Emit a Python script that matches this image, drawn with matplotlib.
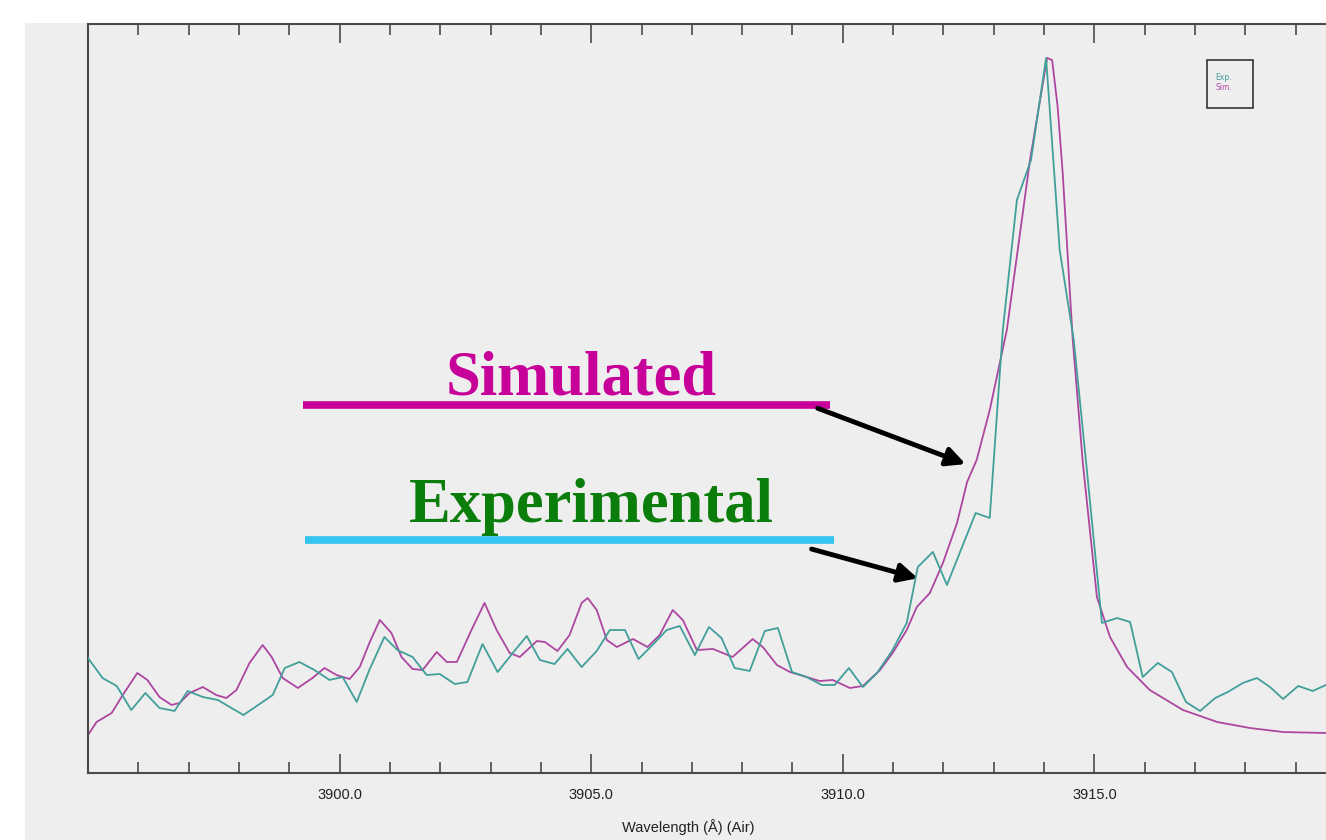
import matplotlib
matplotlib.use('Agg')
import matplotlib.pyplot as plt
from matplotlib.patches import Rectangle
from matplotlib.ticker import FixedLocator, FormatStrFormatter

# experimental spectrum (teal)
exp_wl  = [3895.00, 3895.29, 3895.57, 3895.86, 3896.14, 3896.42, 3896.72, 3896.98, 3897.28, 3897.58,
           3897.85, 3898.09, 3898.41, 3898.67, 3898.91, 3899.20, 3899.50, 3899.80, 3900.06, 3900.34,
           3900.60, 3900.89, 3901.15, 3901.45, 3901.73, 3901.99, 3902.29, 3902.54, 3902.84, 3903.14,
           3903.44, 3903.72, 3903.98, 3904.27, 3904.53, 3904.81, 3905.11, 3905.37, 3905.67, 3905.94,
           3906.22, 3906.50, 3906.76, 3907.06, 3907.34, 3907.59, 3907.85, 3908.15, 3908.45, 3908.71,
           3908.99, 3909.28, 3909.58, 3909.84, 3910.12, 3910.40, 3910.68, 3910.99, 3911.27, 3911.49,
           3911.79, 3912.07, 3912.37, 3912.64, 3912.92, 3913.18, 3913.46, 3913.74, 3914.04, 3914.31,
           3914.59, 3914.87, 3915.15, 3915.45, 3915.71, 3915.96, 3916.26, 3916.54, 3916.82, 3917.10,
           3917.40, 3917.65, 3917.95, 3918.23, 3918.49, 3918.75, 3919.05, 3919.34, 3919.60, 3919.88]
exp_int = [15.35, 12.68, 11.62, 8.41, 10.68, 8.68, 8.28, 10.95, 10.15, 9.75,
           8.68, 7.74, 9.21, 10.41, 14.02, 14.82, 13.75, 12.42, 12.82, 9.48,
           13.89, 18.16, 16.42, 15.49, 13.08, 13.22, 11.88, 12.15, 17.22, 13.48,
           16.02, 18.29, 15.09, 14.55, 16.56, 14.15, 16.29, 19.09, 19.09, 15.22,
           17.09, 19.09, 19.63, 15.75, 19.49, 18.02, 14.02, 13.62, 18.96, 19.36,
           13.48, 12.82, 11.75, 11.75, 14.02, 11.48, 13.35, 16.42, 20.03, 27.50,
           29.51, 25.10, 30.17, 34.71, 34.05, 59.15, 76.50, 81.84, 95.46, 69.83,
           57.81, 39.12, 20.03, 20.69, 20.16, 12.82, 14.69, 13.48, 9.48, 8.28,
           10.01, 10.81, 12.02, 12.68, 11.48, 9.88, 11.62, 10.95, 11.75, 12.02]

# simulated spectrum (magenta)
sim_wl  = [3895.00, 3895.17, 3895.47, 3895.69, 3895.98, 3896.18, 3896.42, 3896.66, 3896.82, 3897.02,
           3897.28, 3897.55, 3897.75, 3897.95, 3898.21, 3898.47, 3898.65, 3898.87, 3899.17, 3899.46,
           3899.70, 3899.94, 3900.20, 3900.40, 3900.60, 3900.80, 3901.03, 3901.23, 3901.45, 3901.65,
           3901.93, 3902.13, 3902.33, 3902.62, 3902.88, 3903.12, 3903.38, 3903.58, 3903.92, 3904.08,
           3904.33, 3904.57, 3904.81, 3904.93, 3905.11, 3905.31, 3905.51, 3905.83, 3906.12, 3906.36,
           3906.62, 3906.82, 3907.10, 3907.42, 3907.81, 3908.21, 3908.41, 3908.69, 3908.95, 3909.28,
           3909.54, 3909.80, 3910.14, 3910.40, 3910.74, 3910.99, 3911.27, 3911.47, 3911.73, 3911.99,
           3912.27, 3912.47, 3912.66, 3912.92, 3913.12, 3913.26, 3913.72, 3914.06, 3914.16, 3914.27,
           3914.37, 3914.57, 3914.77, 3915.05, 3915.31, 3915.65, 3916.10, 3916.76, 3917.44, 3918.09,
           3918.75, 3919.60, 3920.00]
sim_int = [5.07, 6.81, 8.01, 10.41, 13.35, 12.42, 10.15, 9.08, 9.35, 10.68,
           11.48, 10.41, 10.01, 11.08, 14.69, 17.09, 15.49, 12.68, 11.35, 12.68,
           14.02, 13.08, 12.55, 14.15, 17.49, 20.43, 18.69, 15.49, 13.89, 13.75,
           16.15, 14.82, 14.82, 19.09, 22.70, 19.09, 16.02, 15.49, 17.62, 17.49,
           16.29, 18.42, 22.70, 23.36, 21.76, 17.76, 16.82, 17.89, 16.82, 18.42,
           21.76, 20.43, 16.42, 16.56, 15.49, 17.89, 16.82, 14.42, 13.48, 12.82,
           12.28, 12.42, 11.35, 11.62, 13.75, 16.02, 19.09, 22.16, 24.03, 28.04,
           33.38, 38.85, 41.79, 48.46, 54.74, 59.15, 81.84, 95.46, 95.19, 88.92,
           80.11, 57.81, 41.39, 23.50, 18.16, 14.15, 11.08, 8.41, 6.81, 6.01,
           5.47, 5.34, 5.25]

major_ticks   = [3900, 3905, 3910, 3915]
minor_ticks   = [w for w in range(3896, 3920) if w % 5 != 0]
legend_labels = ['Exp.', 'Sim.']

teal    = '#419f99'
magenta = '#ad46a0'
bg      = '#eeeeee'
spine_c = '#4a4a4a'

W, H = 1326, 840
fig = plt.figure(figsize=(W / 100, H / 100), dpi=100)
fig.patch.set_facecolor('white')
fig.patches.append(Rectangle((25 / W, 0), 1, 1 - 23 / H, transform=fig.transFigure,
                             facecolor=bg, edgecolor='none', zorder=-10))

ax = fig.add_axes([88 / W, 67 / H, 1258 / W, 749 / H])
ax.set_facecolor(bg)

ax.plot(exp_wl, exp_int, color=teal, lw=1.3, zorder=3)
ax.plot(sim_wl, sim_int, color=magenta, lw=1.3, zorder=2)

ax.set_xlim(3895.0, 3920.0)
ax.set_ylim(0, 100)
ax.set_yticks([])

ax.xaxis.set_major_locator(FixedLocator(major_ticks))
ax.xaxis.set_minor_locator(FixedLocator(minor_ticks))
ax.xaxis.set_major_formatter(FormatStrFormatter('%.1f'))
ax.tick_params(axis='x', which='both', direction='in', top=True, bottom=True,
               color=spine_c, width=1.2, labelsize=10.5, labelcolor='#222222',
               pad=11)
ax.tick_params(axis='x', which='major', length=14)
ax.tick_params(axis='x', which='minor', length=8)
for lab in ax.get_xticklabels():
    lab.set_family('Liberation Sans')

for s in ax.spines.values():
    s.set_color(spine_c)
    s.set_linewidth(1.5)

ax.set_xlabel('Wavelength (Å) (Air)', fontsize=10.5, family='Liberation Sans', color='#222222')
ax.xaxis.set_label_coords(0.477, -0.061)

# small legend box at top right
ax.add_patch(Rectangle((0.8895, 0.8879), 0.0366, 0.0641, transform=ax.transAxes,
                       facecolor=bg, edgecolor='#333333', lw=1.2, zorder=5))
ax.text(0.8959, 0.929, legend_labels[0], transform=ax.transAxes, color=teal,
        fontsize=5.5, va='center', ha='left', zorder=6)
ax.text(0.8959, 0.9146, legend_labels[1], transform=ax.transAxes, color=magenta,
        fontsize=5.5, va='center', ha='left', zorder=6)

# big annotations
ax.text(3904.81, 50.5, 'Simulated', color='#c8009a', fontsize=45, fontweight='bold',
        family='Liberation Serif', ha='center', va='baseline', zorder=6)
ax.plot([3899.28, 3909.74], [49.1, 49.1], color='#c8009a', lw=5.5, solid_capstyle='butt', zorder=6)
ax.annotate('', xy=(3912.44, 41.25), xytext=(3909.50, 48.7),
            arrowprops=dict(arrowstyle='-|>', color='black', lw=3.5, mutation_scale=28,
                            shrinkA=0, shrinkB=0), zorder=7)

ax.text(3905.01, 33.5, 'Experimental', color='#0b7d0b', fontsize=45, fontweight='bold',
        family='Liberation Serif', ha='center', va='baseline', zorder=6)
ax.plot([3899.32, 3909.82], [31.1, 31.1], color='#33c4ef', lw=5.5, solid_capstyle='butt', zorder=6)
ax.annotate('', xy=(3911.49, 26.0), xytext=(3909.38, 29.9),
            arrowprops=dict(arrowstyle='-|>', color='black', lw=3.5, mutation_scale=28,
                            shrinkA=0, shrinkB=0), zorder=7)

fig.savefig('out.png', dpi=100)
